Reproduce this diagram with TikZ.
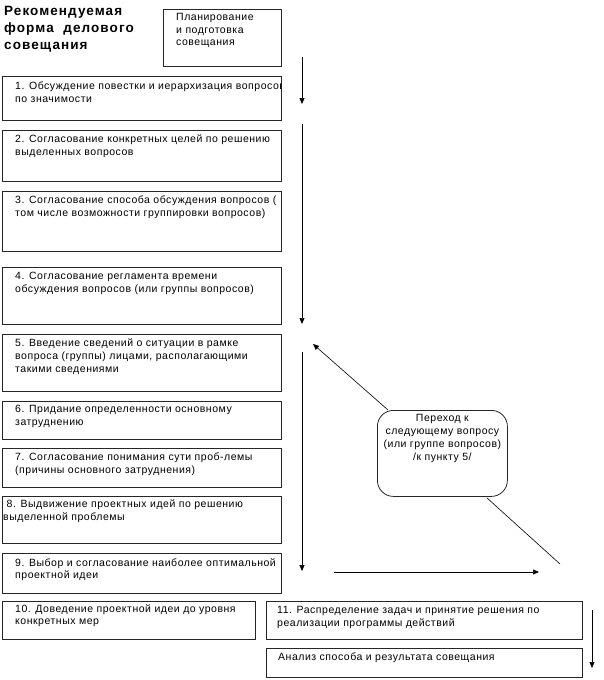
\documentclass[tikz,border=0pt]{standalone}
\usepackage{fontspec}
\setmainfont{Liberation Sans}
\newfontfamily\titlefont[LetterSpace=8]{Liberation Sans}
\newfontfamily\bodyfont[LetterSpace=5]{Liberation Sans}
\usetikzlibrary{arrows.meta,calc}
\tikzset{
  box/.style={draw=black!85, line width=0.8pt, rectangle, inner sep=0pt, anchor=north west},
  rbox/.style={draw=black!85, line width=0.8pt, rectangle, rounded corners=16pt, inner sep=0pt, anchor=north west},
  txt/.style={anchor=north west, inner sep=0pt, align=left, font=\bodyfont\fontsize{10.5}{12.6}\selectfont},
  ctxt/.style={anchor=north, inner sep=0pt, align=center, font=\bodyfont\fontsize{10.5}{13}\selectfont},
  arr/.style={line width=0.7pt, -{Triangle[length=6pt,width=5pt]}},
  thin/.style={line width=0.6pt}
}
\newcommand{\bx}[5]{\node[box, minimum width=#3pt, minimum height=#4pt] (#5) at (#1,#2) {};}
\begin{document}
\begin{tikzpicture}[x=1pt,y=-1pt]
\useasboundingbox (0,0) rectangle (603,680);
% title
\node[anchor=north west, inner sep=0pt, align=left, font=\titlefont\fontsize{13.5}{17}\selectfont\bfseries] (title) at (4,6) {Рекомендуемая\\форма\ \ делового\\совещания};
% planning
\bx{163}{9}{118}{57}{plan}
\node[txt] (plant) at (176,13) {Планирование\\и подготовка\\совещания};
% left column
\bx{2}{76}{279}{44}{b1}
\begin{scope}
\clip (b1.north west) rectangle (b1.south east);
\node[txt] (b1t) at (15,82) {1. Обсуждение повестки и иерархизация вопросов\\по значимости};
\end{scope}
\bx{2}{130}{279}{51}{b2}
\node[txt] (b2t) at (15,135) {2. Согласование конкретных целей по решению\\выделенных вопросов};
\bx{2}{191}{279}{60}{b3}
\begin{scope}
\clip (b3.north west) rectangle (b3.south east);
\node[txt] (b3t) at (15,196) {3. Согласование способа обсуждения вопросов (\\том числе возможности группировки вопросов)};
\end{scope}
\bx{2}{267}{279}{57}{b4}
\node[txt] (b4t) at (15,272) {4. Согласование регламента времени\\обсуждения вопросов (или группы вопросов)};
\bx{2}{334}{279}{57}{b5}
\node[txt] (b5t) at (15,339) {5. Введение сведений о ситуации в рамке\\вопроса (группы) лицами, располагающими\\такими сведениями};
\bx{2}{401}{279}{38}{b6}
\node[txt] (b6t) at (15,405) {6. Придание определенности основному\\затруднению};
\bx{2}{448}{279}{39}{b7}
\node[txt] (b7t) at (15,453) {7. Согласование понимания сути проб-лемы\\(причины основного затруднения)};
\bx{2}{496}{279}{47}{b8}
\node[txt] (b8t) at (3,500) {\ 8. Выдвижение проектных идей по решению\\выделенной проблемы};
\bx{2}{553}{279}{40}{b9}
\begin{scope}
\clip (b9.north west) rectangle (b9.south east);
\node[txt] (b9t) at (15,558) {9. Выбор и согласование наиболее оптимальной\\проектной идеи};
\end{scope}
\bx{2}{601}{253}{38}{b10}
\node[txt] (b10t) at (15,604) {10. Доведение проектной идеи до уровня\\конкретных мер};
\bx{266}{601}{316}{38}{b11}
\node[txt] (b11t) at (277,606) {11. Распределение задач и принятие решения по\\реализации программы действий};
\bx{266}{648}{316}{29}{ban}
\node[txt] (bant) at (278,653) {Анализ способа и результата совещания};
% rounded box
\node[rbox, minimum width=130pt, minimum height=86pt] (rb) at (377,410) {};
\node[ctxt] (rbt) at ($(rb.north)+(0,4)$) {Переход к\\следующему вопросу\\(или группе вопросов)\\/к пункту 5/};
% arrows
\coordinate (a1s) at (302,57);
\coordinate (a1e) at (302,104);
\draw[arr] (a1s) -- (a1e);
\coordinate (a2s) at (302,124);
\coordinate (a2e) at (302,324);
\draw[arr] (a2s) -- (a2e);
\coordinate (a3s) at (302,352);
\coordinate (a3e) at (302,571);
\draw[arr] (a3s) -- (a3e);
\coordinate (a4s) at (334,572);
\coordinate (a4e) at (539,572);
\draw[arr] (a4s) -- (a4e);
\coordinate (dg) at (560,564);
\draw[thin] (dg) -- ($(rb.south east)+(-21,1)$);
\coordinate (a5e) at (313,344);
\draw[thin, -{Triangle[length=6pt,width=5pt]}] ($(rb.north west)+(11,0)$) -- (a5e);
\coordinate (a6s) at (592,610);
\coordinate (a6e) at (592,668);
\draw[arr] (a6s) -- (a6e);
\end{tikzpicture}
\end{document}
